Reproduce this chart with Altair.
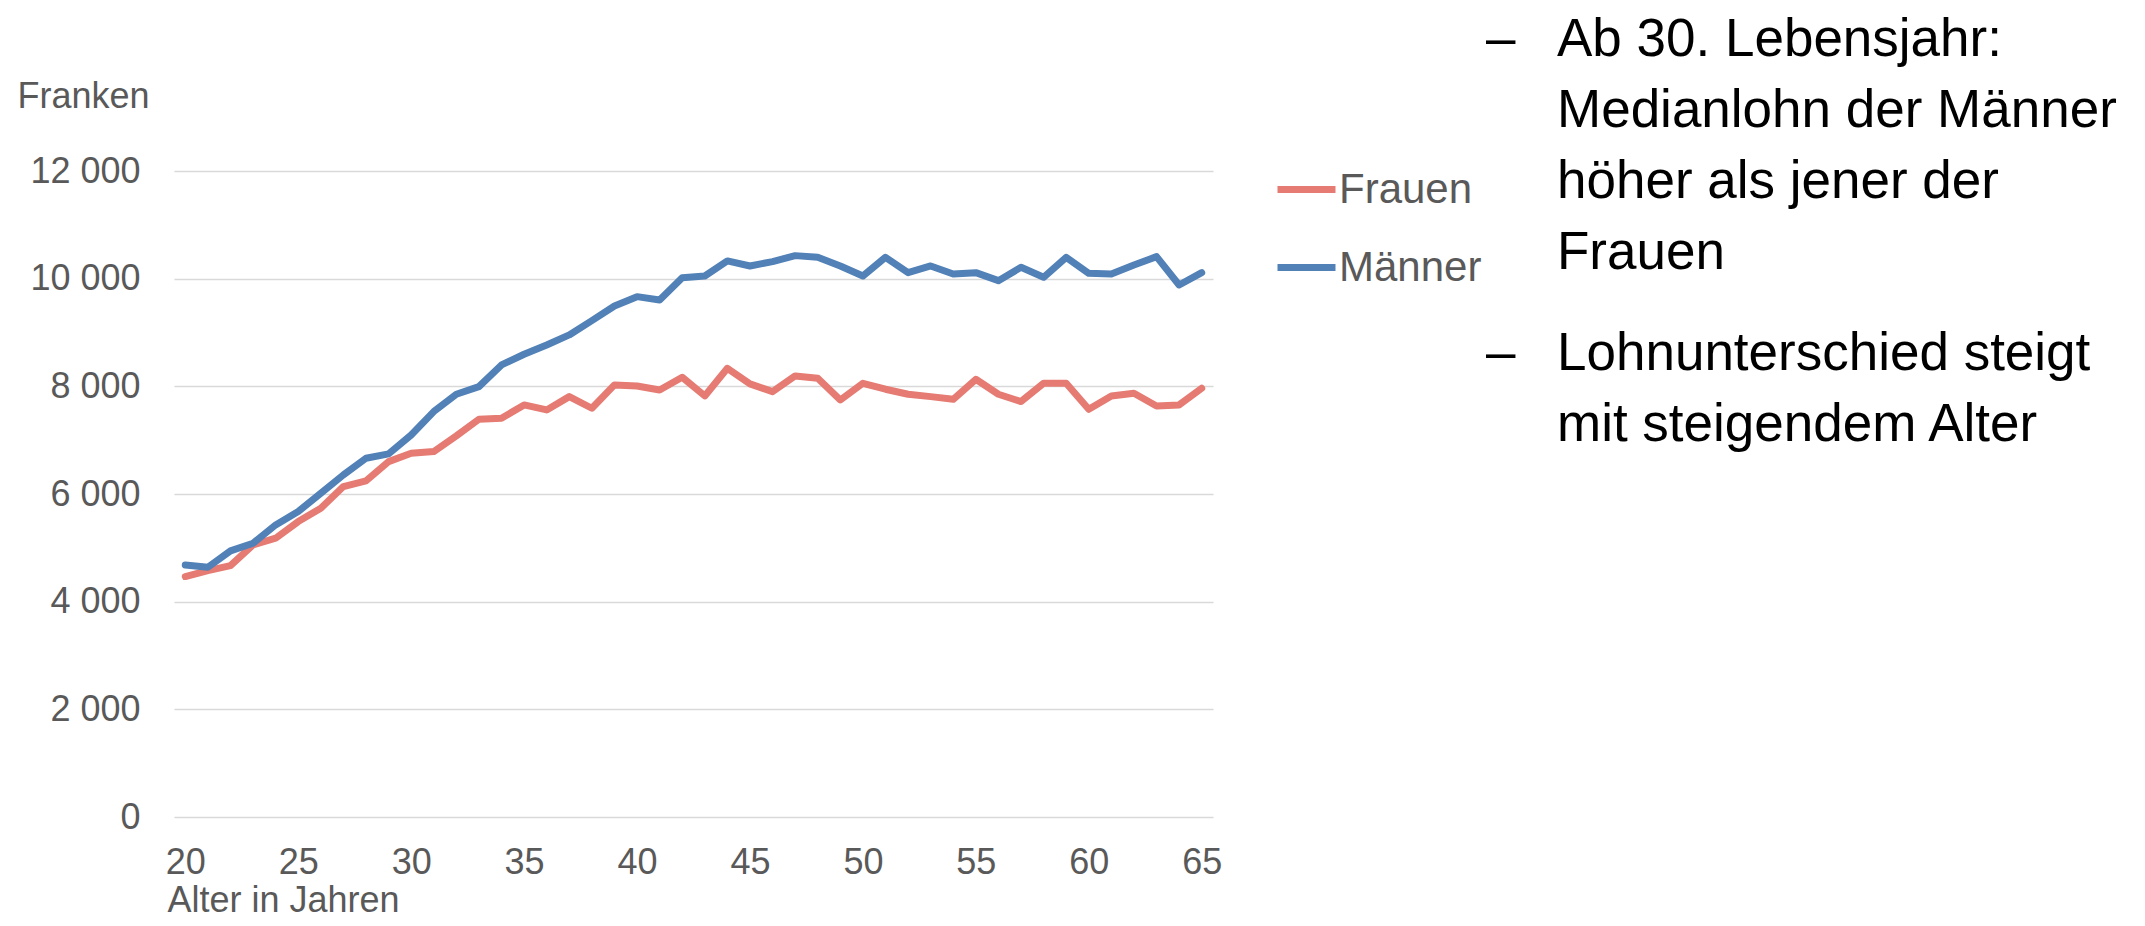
import altair as alt
import pandas as pd

# ---- data ----
alter = list(range(20, 66))
frauen = [4467, 4578, 4671, 5055, 5179, 5488, 5736, 6138, 6243, 6602,
          6757, 6788, 7079, 7388, 7407, 7655, 7562, 7809, 7593, 8026,
          8007, 7933, 8168, 7822, 8335, 8045, 7902, 8193, 8150, 7747,
          8057, 7946, 7853, 7809, 7760, 8131, 7853, 7717, 8057, 8057,
          7574, 7822, 7871, 7636, 7655, 7964]
maenner = [4683, 4640, 4943, 5086, 5426, 5674, 6014, 6355, 6664, 6745,
           7097, 7531, 7853, 7995, 8397, 8596, 8769, 8955, 9221, 9493,
           9666, 9604, 10019, 10050, 10329, 10236, 10316, 10428, 10397, 10236,
           10050, 10397, 10112, 10236, 10087, 10112, 9963, 10211, 10025, 10397,
           10100, 10087, 10254, 10409, 9883, 10112]
serien = ["Frauen", "Männer"]
farben = ["#E57B72", "#5181B7"]
x_ticks = [20, 25, 30, 35, 40, 45, 50, 55, 60, 65]
y_ticks = [0, 2000, 4000, 6000, 8000, 10000, 12000]
bullet1 = ["Ab 30. Lebensjahr:", "Medianlohn der Männer", "höher als jener der", "Frauen"]
bullet2 = ["Lohnunterschied steigt", "mit steigendem Alter"]
dash = "–"

df = pd.DataFrame({
    "Alter": alter + alter,
    "Lohn": frauen + maenner,
    "Geschlecht": [serien[0]] * len(alter) + [serien[1]] * len(alter),
})

FONT = "Liberation Sans"
GREY = "#595959"

lines = alt.Chart(df).mark_line(
    strokeWidth=7, strokeCap="round", strokeJoin="round"
).encode(
    x=alt.X(
        "Alter:Q",
        scale=alt.Scale(domain=[19.5, 65.5], nice=False, zero=False),
        axis=alt.Axis(
            values=x_ticks, title="Alter in Jahren", grid=False, domain=False,
            ticks=False, tickSize=0, labelPadding=28, labelFontSize=36,
            labelColor=GREY, labelFont=FONT, labelFlush=False, labelOverlap=False,
            titleFont=FONT, titleFontSize=36, titleColor=GREY,
            titleFontWeight="normal", titleX=-7, titleY=94, titleAlign="left",
            titleBaseline="alphabetic",
        ),
    ),
    y=alt.Y(
        "Lohn:Q",
        scale=alt.Scale(domain=[0, 12000], nice=False),
        axis=alt.Axis(
            values=y_ticks, title="Franken",
            labelExpr="replace(format(datum.value, ','), ',', ' ')",
            grid=True, gridColor="#D9D9D9", gridWidth=1.3, domain=False,
            ticks=False, tickSize=0, labelPadding=34, labelFontSize=36,
            labelColor=GREY, labelFont=FONT,
            titleFont=FONT, titleFontSize=36, titleColor=GREY,
            titleFontWeight="normal", titleAngle=0, titleX=-157, titleY=-64,
            titleAlign="left", titleBaseline="alphabetic",
        ),
    ),
    color=alt.Color(
        "Geschlecht:N",
        scale=alt.Scale(domain=serien, range=farben),
        legend=alt.Legend(
            title=None, orient="none", legendX=1100, legendY=-14,
            symbolType="stroke", symbolSize=3364, symbolStrokeWidth=7,
            labelFontSize=42, labelFont=FONT, labelColor=GREY, labelOffset=0,
            rowPadding=24, padding=0, labelLimit=400,
        ),
    ),
)

anno = pd.DataFrame({"k": [0]})


def text_layer(txt, x, y):
    return alt.Chart(anno).mark_text(
        font=FONT, fontSize=53, color="#000000", align="left",
        baseline="alphabetic", lineHeight=71,
    ).encode(x=alt.value(x), y=alt.value(y), text=alt.value(txt))


chart = alt.layer(
    lines,
    text_layer(dash, 1312, -115),
    text_layer(bullet1, 1383, -115),
    text_layer(dash, 1312, 199),
    text_layer(bullet2, 1383, 199),
).properties(
    width=1039,
    height=646,
    autosize=alt.AutoSizeParams(type="none"),
    padding={"left": 166, "top": 163, "right": 922, "bottom": 101},
).configure_view(stroke=None)

chart.save("out.html", embed_options={"renderer": "svg", "actions": False})
